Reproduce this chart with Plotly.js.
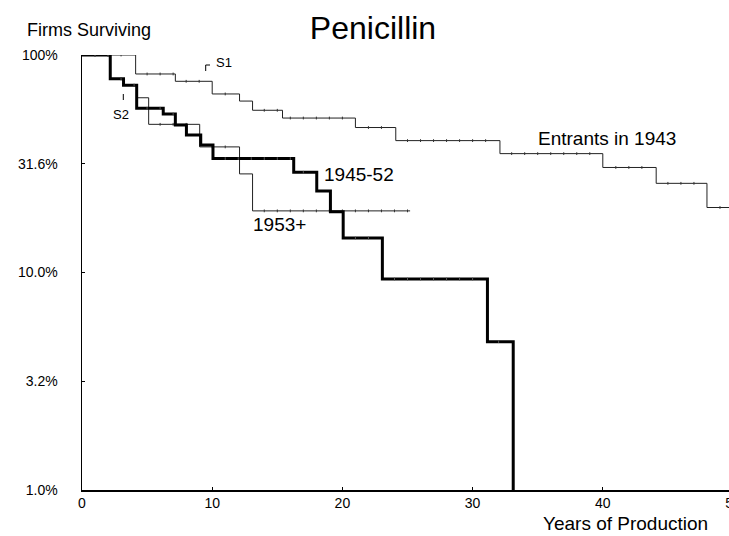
<!DOCTYPE html>
<html>
<head>
<meta charset="utf-8">
<script src="https://cdn.plot.ly/plotly-3.0.1.min.js"></script>
<style>
html, body { margin: 0; padding: 0; overflow: hidden; background: #fff; }
#chart { width: 740px; height: 536px; }
</style>
</head>
<body>
<div id="chart"></div>
<script>
// Survival step curves (years of production, % of firms surviving)
const entrants1943Years = [0, 4.12, 7.17, 10.0, 12.1, 13.1, 15.4, 21.0, 24.1, 32.1, 40.0, 44.1, 48.0, 50.5];
const entrants1943Pct   = [100, 81.8, 75.7, 66.2, 61.4, 55.7, 51.3, 46.4, 40.4, 35.2, 30.4, 25.7, 19.9, 19.9];

const cohort4552Years = [0, 2.17, 3.19, 4.20, 6.24, 7.17, 8.02, 9.12, 10.06, 16.26, 18.03, 19.08, 20.06, 23.07, 31.14, 33.12];
const cohort4552Pct   = [100, 77.7, 72.6, 56.9, 53.6, 47.7, 42.9, 38.6, 33.4, 28.9, 23.7, 19.0, 14.4, 9.33, 4.81, 0.5];

const cohort53Years = [0, 2.17, 3.19, 4.20, 5.12, 9.04, 12.1, 13.1, 25.2];
const cohort53Pct   = [100, 77.7, 72.6, 63.6, 48.0, 37.8, 28.4, 19.2, 19.2];

const yTickVals = [1, 3.16, 10, 31.6, 100];
const yTickText = ['1.0%', '3.2%', '10.0%', '31.6%', '100%'];
const xTickVals = [0, 10, 20, 30, 40, 50];
const xTickText = ['0', '10', '20', '30', '40', '50'];

const FONT = 'Liberation Sans, Arial, sans-serif';

function stepValue(xs, ys, t) {
  let v = ys[0];
  for (let i = 0; i < xs.length; i++) { if (xs[i] <= t) v = ys[i]; }
  return v;
}
function yearMarks(xs, ys) {
  const mx = [], my = [];
  const last = xs[xs.length - 1];
  for (let t = 1; t < last; t++) {
    if (xs.some(x => Math.abs(x - t) < 0.15)) continue;
    const v = stepValue(xs, ys, t);
    if (v >= 1) { mx.push(t); my.push(v); }
  }
  return {mx, my};
}

const traces = [];
function addSeries(xs, ys, width, color, markColor) {
  traces.push({x: xs, y: ys, type: 'scatter', mode: 'lines',
    line: {shape: 'hv', width: width, color: color}, hoverinfo: 'skip', showlegend: false});
  const m = yearMarks(xs, ys);
  traces.push({x: m.mx, y: m.my, type: 'scatter', mode: 'markers',
    marker: {symbol: 'line-ns', size: 2, line: {width: 1, color: markColor}},
    hoverinfo: 'skip', showlegend: false});
}
addSeries(entrants1943Years, entrants1943Pct, 1, '#222', '#333');
addSeries(cohort53Years, cohort53Pct, 1, '#222', '#333');
addSeries(cohort4552Years, cohort4552Pct, 3, '#000', '#555');

const layout = {
  width: 740, height: 536,
  margin: {l: 82, r: 7, t: 55, b: 46},
  paper_bgcolor: '#fff', plot_bgcolor: '#fff',
  font: {family: FONT, color: '#000'},
  title: {text: 'Penicillin', font: {family: FONT, size: 32, color: '#000'},
          xref: 'container', x: 373/740, xanchor: 'center', yref: 'container', y: 1 - 28/536, yanchor: 'middle'},
  showlegend: false,
  xaxis: {range: [0, 50], showgrid: false, zeroline: false, showline: true, linecolor: '#000', linewidth: 1.5,
          ticks: 'inside', ticklen: 3, tickcolor: '#000', tickvals: xTickVals, ticktext: xTickText,
          ticklabeloverflow: 'allow',
          tickfont: {family: FONT, size: 14, color: '#000'}},
  yaxis: {type: 'log', range: [0, 2], showgrid: false, zeroline: false, showline: true, linecolor: '#000', linewidth: 1.5,
          ticks: 'inside', ticklen: 3, tickcolor: '#000', tickvals: yTickVals, ticktext: yTickText,
          ticklabelstandoff: 20, tickfont: {family: FONT, size: 14, color: '#000'}},
  annotations: [
    {text: 'Firms Surviving', xref: 'paper', yref: 'paper', x: (25 - 82) / 651, y: (490 - 30) / 435,
     xanchor: 'left', yanchor: 'middle', showarrow: false, font: {family: FONT, size: 18}},
    {text: 'Years of Production', xref: 'paper', yref: 'paper', x: (625 - 82) / 651, y: (490 - 523) / 435,
     xanchor: 'center', yanchor: 'middle', showarrow: false, font: {family: FONT, size: 19}},
    {text: 'Entrants in 1943', x: 40.3, y: 1.614, xanchor: 'center', yanchor: 'middle', showarrow: false,
     font: {family: FONT, size: 19}},
    {text: '1945-52', x: 18.4, y: 1.4515, xanchor: 'left', yanchor: 'middle', showarrow: false,
     font: {family: FONT, size: 19}},
    {text: '1953+', x: 13.0, y: 1.2216, xanchor: 'left', yanchor: 'middle', showarrow: false,
     font: {family: FONT, size: 19}},
    {text: 'S1', x: 10.1, y: 1.9664, xanchor: 'left', yanchor: 'middle', showarrow: false,
     font: {family: FONT, size: 13}},
    {text: 'S2', x: 2.2, y: 1.7274, xanchor: 'left', yanchor: 'middle', showarrow: false,
     font: {family: FONT, size: 13}}
  ],
  shapes: [
    {type: 'line', xref: 'paper', yref: 'paper', x0: (205.7 - 82) / 651, x1: (205.7 - 82) / 651,
     y0: (490 - 71) / 435, y1: (490 - 65) / 435, line: {color: '#000', width: 1}},
    {type: 'line', xref: 'paper', yref: 'paper', x0: (205.7 - 82) / 651, x1: (210 - 82) / 651,
     y0: (490 - 65) / 435, y1: (490 - 65) / 435, line: {color: '#000', width: 1}},
    {type: 'line', xref: 'paper', yref: 'paper', x0: (123.3 - 82) / 651, x1: (123.3 - 82) / 651,
     y0: (490 - 100) / 435, y1: (490 - 94) / 435, line: {color: '#000', width: 1}}
  ]
};

Plotly.newPlot('chart', traces, layout, {displayModeBar: false, staticPlot: true});
</script>
</body>
</html>
